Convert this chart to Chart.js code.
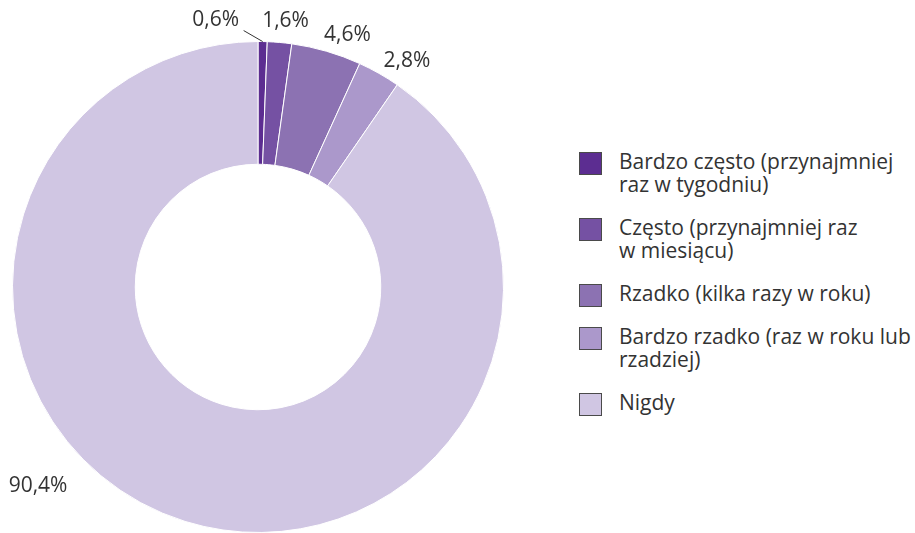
<!DOCTYPE html>
<html><head><meta charset="utf-8">
<script src="https://cdn.jsdelivr.net/npm/chart.js@4/dist/chart.umd.min.js"></script>
<style>
html,body{margin:0;padding:0;background:#fff;width:915px;height:533px;overflow:hidden;font-family:"Open Sans",sans-serif;}
#wrap{position:absolute;left:0;top:0;width:516px;height:533px;}
#legend{position:absolute;left:579px;top:150px;width:336px;color:#333;font-size:21px;line-height:23px;white-space:nowrap;}
.item{position:relative;padding-left:40px;margin-bottom:20px;}
.box{position:absolute;left:0;top:2px;width:21px;height:21px;border:1px solid #4a4a4a;}
</style></head>
<body>
<div id="wrap"><canvas id="c" width="516" height="533" style="width:516px;height:533px"></canvas></div>
<div id="legend"></div>
<script>
const categories = [
  "Bardzo często (przynajmniej raz w tygodniu)",
  "Często (przynajmniej raz w miesiącu)",
  "Rzadko (kilka razy w roku)",
  "Bardzo rzadko (raz w roku lub rzadziej)",
  "Nigdy"
];
const legendLines = [
  ["Bardzo często (przynajmniej", "raz w tygodniu)"],
  ["Często (przynajmniej raz", "w miesiącu)"],
  ["Rzadko (kilka razy w roku)"],
  ["Bardzo rzadko (raz w roku lub", "rzadziej)"],
  ["Nigdy"]
];
const values = [0.6, 1.6, 4.6, 2.8, 90.4];
const colors = ["#5c2d91", "#7551a3", "#8c72b2", "#ab98cb", "#d0c6e3"];

// label placement style (offset of label centre from the arc's outer mid point)
const labelStyle = [
  {dx: -47, dy: -22, leader: {dx: 28, dy: 11}},
  {dx: 6, dy: -21},
  {dx: 21, dy: -16},
  {dx: 28, dy: -12},
  {dx: -147, dy: -35}
];

const fmt = v => v.toFixed(1).replace('.', ',') + '%';

const labelPlugin = {
  id: 'outLabels',
  afterDatasetsDraw(chart) {
    const ctx = chart.ctx;
    const meta = chart.getDatasetMeta(0);
    ctx.save();
    ctx.font = '21px "Open Sans"';
    ctx.fillStyle = '#333';
    ctx.strokeStyle = '#333';
    ctx.lineWidth = 1;
    ctx.textAlign = 'center';
    ctx.textBaseline = 'middle';
    meta.data.forEach((arc, i) => {
      const p = arc.getProps(['x','y','startAngle','endAngle','outerRadius'], true);
      const mid = (p.startAngle + p.endAngle) / 2;
      const px = p.x + Math.cos(mid) * p.outerRadius;
      const py = p.y + Math.sin(mid) * p.outerRadius;
      const st = labelStyle[i];
      const lx = px + st.dx, ly = py + st.dy;
      ctx.fillText(fmt(chart.data.datasets[0].data[i]), lx, ly);
      if (st.leader) {
        ctx.beginPath();
        ctx.moveTo(px, py);
        ctx.lineTo(lx + st.leader.dx, ly + st.leader.dy);
        ctx.stroke();
      }
    });
    ctx.restore();
  }
};

new Chart(document.getElementById('c'), {
  type: 'doughnut',
  data: {
    labels: categories,
    datasets: [{
      data: values,
      backgroundColor: colors,
      borderColor: '#ffffff',
      borderWidth: 1
    }]
  },
  options: {
    responsive: false,
    animation: false,
    cutout: '50%',
    layout: {padding: {top: 41, bottom: -1, left: 11, right: 11}},
    plugins: {legend: {display: false}, tooltip: {enabled: false}}
  },
  plugins: [labelPlugin]
});

const lg = document.getElementById('legend');
legendLines.forEach((lines, i) => {
  const d = document.createElement('div');
  d.className = 'item';
  const b = document.createElement('span');
  b.className = 'box';
  b.style.background = colors[i];
  d.appendChild(b);
  lines.forEach((t, j) => {
    const s = document.createElement('div');
    s.textContent = t;
    d.appendChild(s);
  });
  lg.appendChild(d);
});
</script>
</body></html>
